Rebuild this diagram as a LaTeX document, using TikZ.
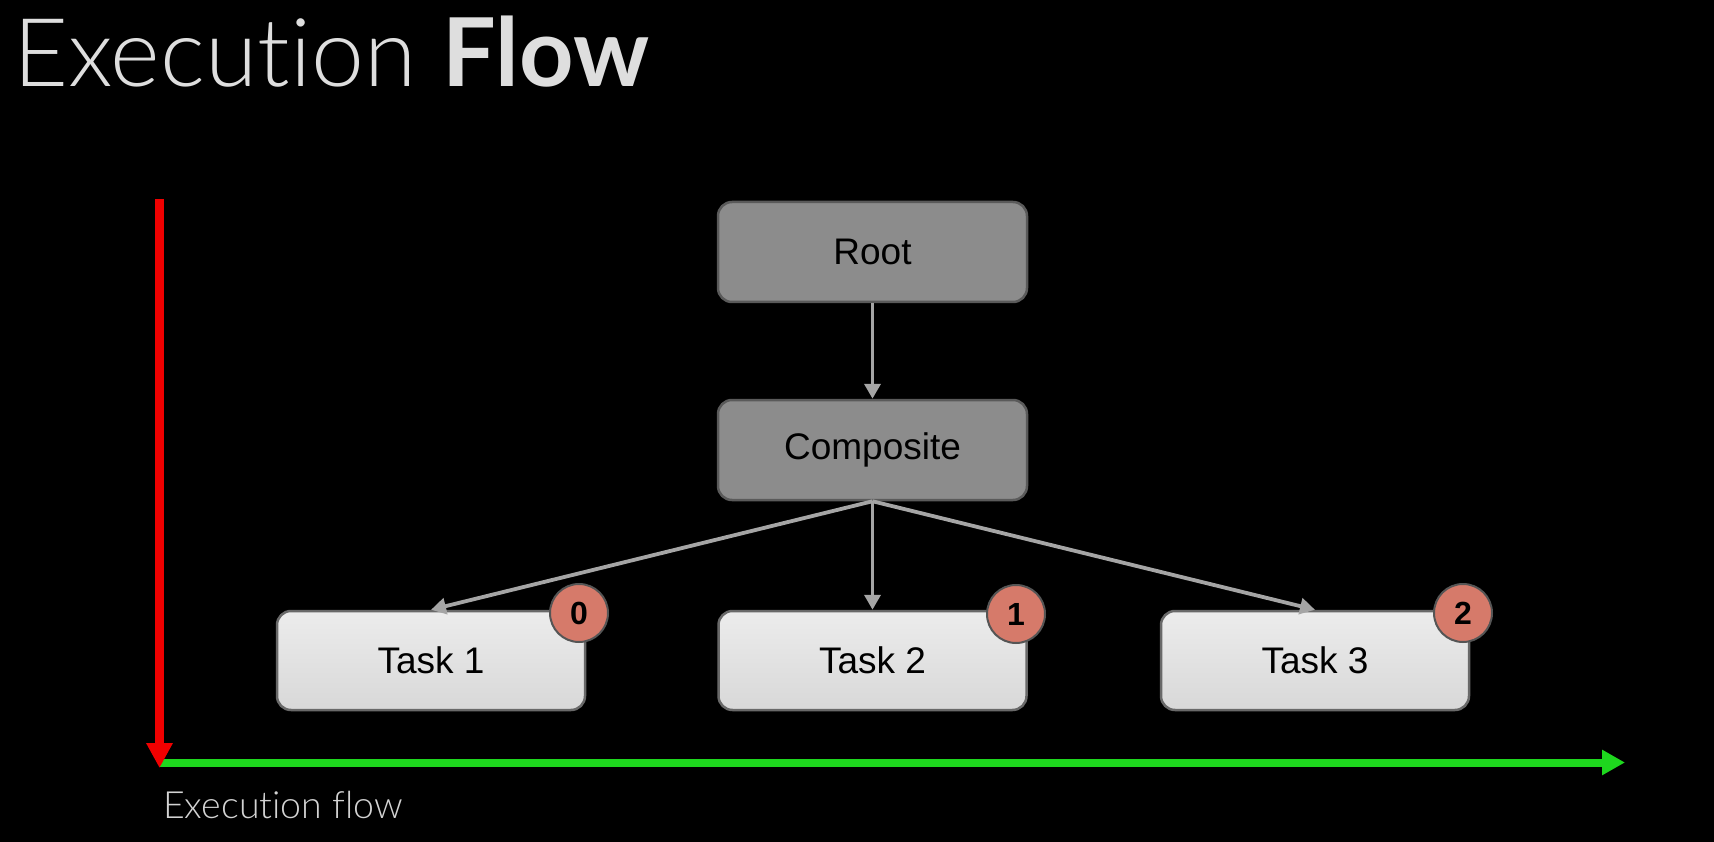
\documentclass[tikz,border=0pt]{standalone}
\usepackage{fontspec}
\setmainfont{Liberation Sans}
\newfontfamily\thinfont[Ligatures=CommonOff]{Lato Light}
\newfontfamily\boldfont{Lato Bold}
\usetikzlibrary{arrows.meta,shapes.geometric}
\definecolor{darkbox}{RGB}{140,140,140}
\definecolor{darkedge}{RGB}{90,90,90}
\definecolor{lighttop}{RGB}{236,236,236}
\definecolor{lightbot}{RGB}{216,216,216}
\definecolor{lightedge}{RGB}{105,105,105}
\definecolor{conn}{RGB}{165,165,165}
\definecolor{badgefill}{RGB}{214,122,106}
\definecolor{badgeedge}{RGB}{85,85,85}
\definecolor{flowred}{RGB}{240,0,0}
\definecolor{flowgreen}{RGB}{30,215,30}
\definecolor{titlegray}{RGB}{222,222,222}
\tikzset{
  darkstep/.style={draw=darkedge, line width=2.5pt, fill=darkbox, rounded corners=14pt,
    minimum width=309pt, minimum height=100pt, inner sep=0pt, font=\fontsize{37}{42}\selectfont},
  taskstep/.style={draw=lightedge, line width=2.5pt, top color=lighttop, bottom color=lightbot,
    rounded corners=14pt, minimum width=308pt, minimum height=99pt, inner sep=0pt,
    font=\fontsize{37}{42}\selectfont},
  badge/.style={circle, draw=badgeedge, line width=2pt, fill=badgefill, minimum size=58pt,
    inner sep=0pt, font=\fontsize{32}{36}\selectfont\bfseries},
  conn/.style={draw=conn, line width=3.8pt, -{Triangle[length=15pt,width=16pt]}}
}
\begin{document}
\begin{tikzpicture}[x=1pt,y=-1pt]
\fill[black] (0,0) rectangle (1714,842);
\useasboundingbox (0,0) rectangle (1714,842);

\node[anchor=base west, inner sep=0pt, text=titlegray, font=\fontsize{95}{105}\selectfont] (title) at (13,87)
  {{\thinfont Execut\kern0pt ion} {\boldfont Flow}};

\node[darkstep] (root) at (872.5,252) {Root};
\node[darkstep] (comp) at (872.5,450) {Composite};
\node[taskstep] (t1) at (431,660.5) {Task 1};
\node[taskstep] (t2) at (872.5,660.5) {Task 2};
\node[taskstep] (t3) at (1315,660.5) {Task 3};

\draw[conn] (root.south) -- (comp.north);
\draw[conn] (comp.south) -- (t1.north);
\draw[conn] (comp.south) -- (t2.north);
\draw[conn] (comp.south) -- (t3.north);

\node[badge] (b0) at (579,613) {0};
\node[badge] (b1) at (1016,614) {1};
\node[badge] (b2) at (1463,613) {2};

\coordinate (gstart) at (160,762.5);
\coordinate (gend) at (1625,762.5);
\coordinate (rtop) at (159.5,199);
\coordinate (rtip) at (159.5,768);
\draw[flowgreen, line width=8pt, -{Triangle[length=23pt,width=24pt]}] (gstart) -- (gend);
\draw[flowred, line width=9pt, -{Triangle[length=25pt,width=25pt]}] (rtop) -- (rtip);

\node[anchor=base west, inner sep=0pt, text=titlegray!95!black, font=\thinfont\fontsize{37.5}{42}\selectfont] (flowlabel) at (163,818) {Execut\kern0pt ion flow};
\end{tikzpicture}
\end{document}
